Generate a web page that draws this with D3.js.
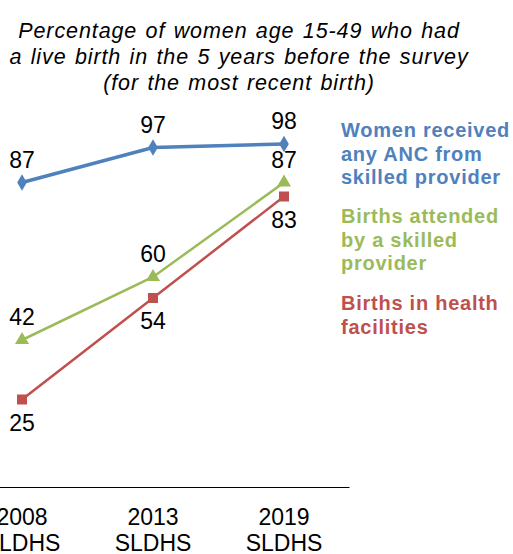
<!DOCTYPE html>
<html><head><meta charset="utf-8">
<script src="https://cdn.jsdelivr.net/npm/d3@7"></script>
<style>body{margin:0;background:#fff;} svg{display:block;font-family:"Liberation Sans",Arial,sans-serif;}</style>
</head><body>
<svg id="c" width="513" height="554"></svg>
<script>
const categories = ["2008|SLDHS", "2013|SLDHS", "2019|SLDHS"];
const ancValues = [87, 97, 98];
const attendedValues = [42, 60, 87];
const facilityValues = [25, 54, 83];
const titleLines = ["Percentage of women age 15-49 who had", "a live birth in the 5 years before the survey", "(for the most recent birth)"];
const seriesNames = [
  ["Women received", "any ANC from", "skilled provider"],
  ["Births attended", "by a skilled", "provider"],
  ["Births in health", "facilities"]
];
const colors = ["#4F81BD", "#9BBB59", "#C0504D"];

const svg = d3.select("#c");
const x = d3.scalePoint().domain(categories).range([22, 284]);
const y = d3.scaleLinear().domain([0, 100]).range([487, 137]);

// title
const t = svg.append("text").attr("text-anchor", "middle").attr("font-style", "italic").attr("font-size", 21.5)
  .attr("letter-spacing", 0.9).attr("word-spacing", 1.5).attr("fill", "#000");
titleLines.forEach((l, i) => t.append("tspan").attr("x", 239).attr("y", 38 + i * 26).text(l));

// axis
const axis = d3.axisBottom(x).tickSize(0).tickFormat("");
const ag = svg.append("g").attr("transform", "translate(0,487)").call(axis);
ag.select(".domain").attr("d", "M-44,0.5H349.5").attr("stroke", "#000").attr("stroke-width", 1);
categories.forEach(c => {
  const parts = c.split("|");
  const tt = svg.append("text").attr("text-anchor", "middle").attr("font-size", 23).attr("fill", "#000");
  parts.forEach((p, i) => tt.append("tspan").attr("x", x(c)).attr("y", 525 + i * 25.5).text(p));
});

const series = [
  {vals: ancValues, color: colors[0], sym: d3.symbolDiamond, size: 80, w: 3.5, labelPos: "above"},
  {vals: attendedValues, color: colors[1], sym: d3.symbolTriangle, size: 85, w: 2.5, labelPos: "above"},
  {vals: facilityValues, color: colors[2], sym: d3.symbolSquare, size: 100, w: 2.5, labelPos: "below"}
];
const line = d3.line().x((d, i) => x(categories[i])).y(d => y(d));

series.forEach(s => {
  svg.append("path").attr("d", line(s.vals)).attr("fill", "none").attr("stroke", s.color).attr("stroke-width", s.w);
  s.vals.forEach((v, i) => {
    svg.append("path").attr("d", d3.symbol().type(s.sym).size(s.size)())
      .attr("transform", `translate(${x(categories[i])},${y(v)})`).attr("fill", s.color);
    svg.append("text").attr("x", x(categories[i])).attr("y", s.labelPos === "above" ? y(v) - 15 : y(v) + 31)
      .attr("text-anchor", "middle").attr("font-size", 23).attr("fill", "#000").text(v);
  });
});

// legend
const legendStarts = [137, 223, 310];
seriesNames.forEach((lines, k) => {
  const lt = svg.append("text").attr("font-weight", "bold").attr("font-size", 20).attr("fill", colors[k]).attr("letter-spacing", 0.75);
  lines.forEach((l, i) => lt.append("tspan").attr("x", 341).attr("y", legendStarts[k] + i * 23.5).text(l));
});
</script>
</body></html>
